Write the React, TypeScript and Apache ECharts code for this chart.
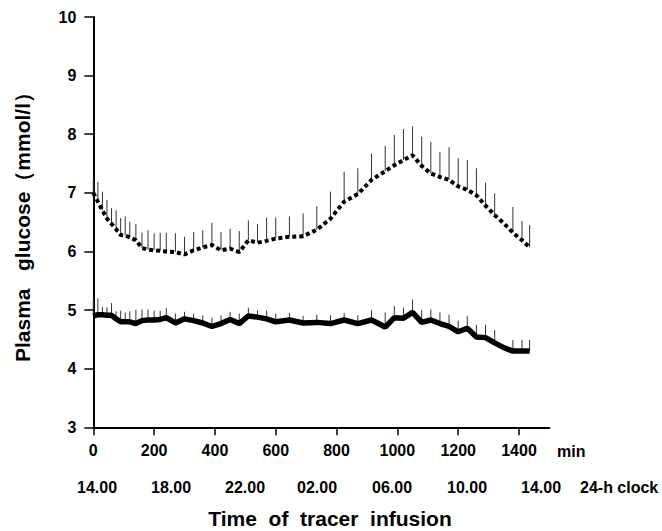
import React, { useEffect, useRef } from "react";
import * as echarts from "echarts";

// Time of tracer infusion (min)
const times = [
  0, 15, 30, 45, 60, 75, 90, 105, 120, 140, 160, 180, 200, 220, 240, 270, 300, 330, 360, 390,
  420, 450, 480, 510, 540, 570, 600, 645, 690, 735, 780, 825, 870, 915, 960, 990, 1020, 1050,
  1080, 1110, 1140, 1170, 1200, 1230, 1260, 1290, 1320, 1350, 1380, 1410, 1435,
];

// Upper (dotted) series – plasma glucose, mmol/l
const upperValues = [
  7.0, 6.85, 6.7, 6.56, 6.47, 6.38, 6.28, 6.27, 6.24, 6.19, 6.06, 6.03, 6.02, 6.01, 6.0, 5.99,
  5.95, 6.02, 6.07, 6.11, 6.02, 6.05, 5.99, 6.19, 6.15, 6.18, 6.22, 6.25, 6.26, 6.37, 6.56, 6.85,
  6.98, 7.22, 7.37, 7.47, 7.56, 7.64, 7.46, 7.33, 7.27, 7.22, 7.11, 7.05, 6.96, 6.78, 6.62, 6.48,
  6.32, 6.19, 6.07,
];
const upperErrors = [
  0.25, 0.34, 0.32, 0.32, 0.27, 0.32, 0.29, 0.33, 0.27, 0.28, 0.26, 0.33, 0.29, 0.31, 0.32, 0.32,
  0.3, 0.31, 0.29, 0.38, 0.31, 0.34, 0.36, 0.34, 0.32, 0.4, 0.36, 0.35, 0.39, 0.4, 0.46, 0.51,
  0.44, 0.45, 0.43, 0.52, 0.53, 0.49, 0.5, 0.54, 0.43, 0.56, 0.48, 0.51, 0.46, 0.39, 0.37, 0,
  0.44, 0.33, 0.38,
];

// Lower (solid) series
const lowerValues = [
  4.9, 4.92, 4.92, 4.91, 4.91, 4.85, 4.8, 4.8, 4.8, 4.77, 4.82, 4.83, 4.83, 4.84, 4.87, 4.78,
  4.85, 4.82, 4.78, 4.72, 4.77, 4.84, 4.77, 4.9, 4.88, 4.85, 4.8, 4.83, 4.78, 4.79, 4.77, 4.83,
  4.77, 4.83, 4.71, 4.87, 4.86, 4.96, 4.79, 4.83, 4.77, 4.72, 4.63, 4.69, 4.54, 4.53, 4.44, 4.36,
  4.3, 4.3, 4.3,
];
const lowerErrors = [
  0.3, 0.28, 0.13, 0.14, 0.21, 0.13, 0.19, 0.16, 0.18, 0.24, 0.19, 0.18, 0.16, 0.15, 0.16, 0.16,
  0.12, 0.12, 0.13, 0.15, 0.14, 0.13, 0.17, 0.14, 0.12, 0.14, 0.14, 0.12, 0.12, 0.13, 0.14, 0.12,
  0.14, 0.17, 0.25, 0.2, 0.18, 0.22, 0.21, 0.18, 0.19, 0.2, 0.19, 0.21, 0.21, 0.22, 0.22, 0,
  0.19, 0.19, 0.19,
];

const minTicks = [0, 200, 400, 600, 800, 1000, 1200, 1400];
const clockLabels = ["14.00", "18.00", "22.00", "02.00", "06.00", "10.00", "14.00"];
const clockCenters = [97, 171, 245, 317, 392, 467, 541];

const FONT = "'Liberation Sans', Arial, Helvetica, sans-serif";

export default function App() {
  const ref = useRef<HTMLDivElement>(null);

  useEffect(() => {
    if (!ref.current) return;
    const chart = echarts.init(ref.current, undefined, { renderer: "svg" });

    const lineData = (vals: number[]) => times.map((t, i) => [t, vals[i]]);
    const errData = (vals: number[], errs: number[]) =>
      times.map((t, i) => [t, vals[i], errs[i]]);

    const renderErr = (params: any, api: any) => {
      const t = api.value(0);
      const v = api.value(1);
      const e = api.value(2);
      if (!e) return null;
      const p1 = api.coord([t, v]);
      const p2 = api.coord([t, v + e]);
      return {
        type: "line",
        shape: { x1: p1[0], y1: p1[1], x2: p2[0], y2: p2[1] },
        style: { stroke: "#333", lineWidth: 1 },
      };
    };

    const graphics: any[] = [
      {
        type: "text",
        x: 22,
        y: 222,
        rotation: Math.PI / 2,
        style: {
          text: "Plasma   glucose（mmol/l）",
          font: `bold 21px ${FONT}`,
          fill: "#000",
          align: "center",
          verticalAlign: "middle",
        },
      },
      {
        type: "text",
        x: 557,
        y: 451,
        style: {
          text: "min",
          font: `bold 16px ${FONT}`,
          fill: "#000",
          align: "left",
          verticalAlign: "middle",
        },
      },
      {
        type: "text",
        x: 580,
        y: 487,
        style: {
          text: "24-h clock",
          font: `bold 16px ${FONT}`,
          fill: "#000",
          align: "left",
          verticalAlign: "middle",
        },
      },
      {
        type: "text",
        x: 330,
        y: 518,
        style: {
          text: "Time  of  tracer  infusion",
          font: `bold 21px ${FONT}`,
          fill: "#000",
          align: "center",
          verticalAlign: "middle",
        },
      },
      ...clockLabels.map((s, i) => ({
        type: "text",
        x: clockCenters[i],
        y: 487,
        style: {
          text: s,
          font: `bold 16px ${FONT}`,
          fill: "#000",
          align: "center",
          verticalAlign: "middle",
        },
      })),
    ];

    chart.setOption({
      animation: false,
      backgroundColor: "#fff",
      grid: { left: 93.3, right: 112.6, top: 17, bottom: 103.7, containLabel: false },
      xAxis: {
        type: "value",
        min: 0,
        max: 1500,
        interval: 200,
        axisLine: { show: true, lineStyle: { color: "#000", width: 2 } },
        axisTick: {
          show: true,
          length: 8,
          customValues: minTicks,
          lineStyle: { color: "#000", width: 1.5 },
        },
        axisLabel: {
          customValues: minTicks,
          formatter: (v: number) => String(v),
          margin: 15,
          color: "#000",
          fontFamily: FONT,
          fontWeight: "bold",
          fontSize: 16,
        },
        splitLine: { show: false },
      },
      yAxis: {
        type: "value",
        min: 3,
        max: 10,
        interval: 1,
        axisLine: { show: true, lineStyle: { color: "#000", width: 2 } },
        axisTick: { show: true, length: 9, lineStyle: { color: "#000", width: 1.5 } },
        axisLabel: {
          margin: 17,
          color: "#000",
          fontFamily: FONT,
          fontWeight: "bold",
          fontSize: 16,
        },
        splitLine: { show: false },
      },
      graphic: graphics,
      series: [
        {
          type: "custom",
          name: "upperErr",
          renderItem: renderErr,
          data: errData(upperValues, upperErrors),
          encode: { x: 0, y: 1 },
          z: 1,
        },
        {
          type: "custom",
          name: "lowerErr",
          renderItem: renderErr,
          data: errData(lowerValues, lowerErrors),
          encode: { x: 0, y: 1 },
          z: 1,
        },
        {
          type: "line",
          name: "upper",
          data: lineData(upperValues),
          showSymbol: false,
          symbol: "none",
          lineStyle: { color: "#000", width: 4, type: [4, 3] },
          z: 3,
        },
        {
          type: "line",
          name: "lower",
          data: lineData(lowerValues),
          showSymbol: false,
          symbol: "none",
          lineStyle: { color: "#000", width: 5.5 },
          z: 3,
        },
      ],
    });

    return () => chart.dispose();
  }, []);

  return (
    <div
      ref={ref}
      style={{ position: "fixed", left: 0, top: 0, width: 662, height: 531, background: "#fff" }}
    />
  );
}
